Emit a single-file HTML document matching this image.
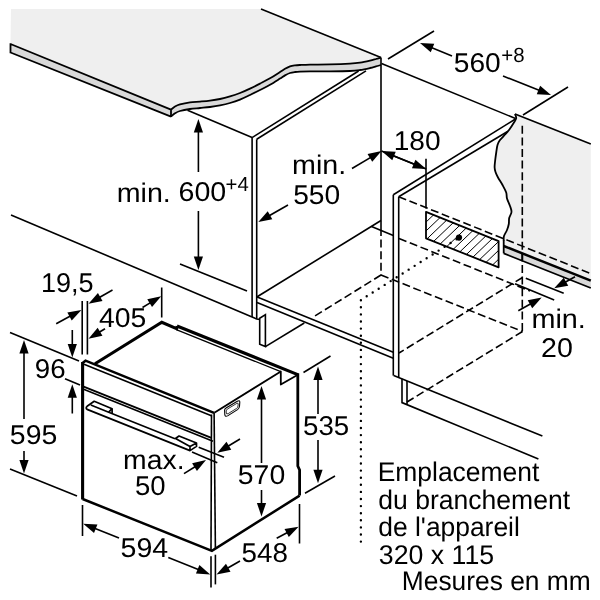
<!DOCTYPE html>
<html><head><meta charset="utf-8"><title>Installation dimensions</title>
<style>
html,body{margin:0;padding:0;background:#fff;}
svg{display:block;will-change:transform;}
text{font-family:"Liberation Sans",sans-serif;fill:#000;text-rendering:geometricPrecision;}
.t{stroke:#000;stroke-width:1.6;fill:none;stroke-linecap:butt;stroke-linejoin:miter;}
.m{stroke:#000;stroke-width:1.8;fill:none;stroke-linejoin:round;}
.k{stroke:#000;stroke-width:2.5;fill:none;stroke-linejoin:miter;}
.kk{stroke:#000;stroke-width:3.1;fill:none;stroke-linejoin:miter;}
.d{stroke:#000;stroke-width:1.6;fill:none;stroke-dasharray:8 3.6;}
.o{stroke:#000;stroke-width:2.4;fill:none;stroke-dasharray:0 7.1;stroke-linecap:round;}
.hn{stroke:#000;stroke-width:1.7;fill:none;stroke-linejoin:round;}
.ah{fill:#000;stroke:none;}
.g1{fill:#efefef;stroke:none;}
.g2{fill:#d9d9d9;stroke:none;}
</style></head><body>
<svg width="600" height="600" viewBox="0 0 600 600">
<rect width="600" height="600" fill="#fff"/>
<path class="g1" d="M11,9 L261,9 L381,57.6 L381,57.6 C380.17,57.83 377.83,58.50 376,59 C374.17,59.50 372.67,60.00 370,60.6 C367.33,61.20 363.33,62.10 360,62.6 C356.67,63.10 355.00,63.30 350,63.6 C345.00,63.90 336.67,64.23 330,64.4 C323.33,64.57 315.00,64.50 310,64.6 C305.00,64.70 302.50,64.87 300,65 C297.50,65.13 296.67,65.17 295,65.4 C293.33,65.63 291.67,65.83 290,66.4 C288.33,66.97 286.67,67.87 285,68.8 C283.33,69.73 282.50,70.42 280,72 C277.50,73.58 273.33,76.37 270,78.3 C266.67,80.23 263.33,81.88 260,83.6 C256.67,85.32 253.33,87.03 250,88.6 C246.67,90.17 243.33,91.70 240,93 C236.67,94.30 233.33,95.40 230,96.4 C226.67,97.40 223.33,98.30 220,99 C216.67,99.70 213.33,100.17 210,100.6 C206.67,101.03 203.33,101.30 200,101.6 C196.67,101.90 193.33,101.93 190,102.4 C186.67,102.87 182.50,103.72 180,104.4 C177.50,105.08 176.50,105.63 175,106.5 C173.50,107.37 171.67,109.08 171,109.6 L10.5,44 Z" />
<path class="g2" d="M10.5,44 L171,109.6 L171,116.6 L10.5,52.5 Z" />
<path class="g2" d="M171,109.6 C171.67,109.08 173.50,107.37 175,106.5 C176.50,105.63 177.50,105.08 180,104.4 C182.50,103.72 186.67,102.87 190,102.4 C193.33,101.93 196.67,101.90 200,101.6 C203.33,101.30 206.67,101.03 210,100.6 C213.33,100.17 216.67,99.70 220,99 C223.33,98.30 226.67,97.40 230,96.4 C233.33,95.40 236.67,94.30 240,93 C243.33,91.70 246.67,90.17 250,88.6 C253.33,87.03 256.67,85.32 260,83.6 C263.33,81.88 266.67,80.23 270,78.3 C273.33,76.37 277.50,73.58 280,72 C282.50,70.42 283.33,69.73 285,68.8 C286.67,67.87 288.33,66.97 290,66.4 C291.67,65.83 293.33,65.63 295,65.4 C296.67,65.17 297.50,65.13 300,65 C302.50,64.87 305.00,64.70 310,64.6 C315.00,64.50 323.33,64.57 330,64.4 C336.67,64.23 345.00,63.90 350,63.6 C355.00,63.30 356.67,63.10 360,62.6 C363.33,62.10 367.33,61.20 370,60.6 C372.67,60.00 374.17,59.50 376,59 C377.83,58.50 380.17,57.83 381,57.6 L381,65 C380.17,65.23 377.83,65.90 376,66.4 C374.17,66.90 372.67,67.40 370,68 C367.33,68.60 363.33,69.50 360,70 C356.67,70.50 355.00,70.77 350,71 C345.00,71.23 336.67,71.33 330,71.4 C323.33,71.47 315.00,71.37 310,71.4 C305.00,71.43 302.50,71.50 300,71.6 C297.50,71.70 296.67,71.77 295,72 C293.33,72.23 291.67,72.43 290,73 C288.33,73.57 286.67,74.47 285,75.4 C283.33,76.33 282.50,77.03 280,78.6 C277.50,80.17 273.33,82.90 270,84.8 C266.67,86.70 263.33,88.30 260,90 C256.67,91.70 253.33,93.40 250,95 C246.67,96.60 243.33,98.27 240,99.6 C236.67,100.93 233.33,102.03 230,103 C226.67,103.97 223.33,104.73 220,105.4 C216.67,106.07 213.33,106.57 210,107 C206.67,107.43 203.33,107.67 200,108 C196.67,108.33 193.33,108.50 190,109 C186.67,109.50 182.50,110.28 180,111 C177.50,111.72 176.50,112.37 175,113.3 C173.50,114.23 171.67,116.05 171,116.6 Z" />
<path class="m" d="M10.5,44 L171,109.6 M10.5,52.5 L171,116.6 M10.5,43.2 L10.5,53.3 M171,109 L171,117" />
<path class="m" d="M171,109.6 C171.67,109.08 173.50,107.37 175,106.5 C176.50,105.63 177.50,105.08 180,104.4 C182.50,103.72 186.67,102.87 190,102.4 C193.33,101.93 196.67,101.90 200,101.6 C203.33,101.30 206.67,101.03 210,100.6 C213.33,100.17 216.67,99.70 220,99 C223.33,98.30 226.67,97.40 230,96.4 C233.33,95.40 236.67,94.30 240,93 C243.33,91.70 246.67,90.17 250,88.6 C253.33,87.03 256.67,85.32 260,83.6 C263.33,81.88 266.67,80.23 270,78.3 C273.33,76.37 277.50,73.58 280,72 C282.50,70.42 283.33,69.73 285,68.8 C286.67,67.87 288.33,66.97 290,66.4 C291.67,65.83 293.33,65.63 295,65.4 C296.67,65.17 297.50,65.13 300,65 C302.50,64.87 305.00,64.70 310,64.6 C315.00,64.50 323.33,64.57 330,64.4 C336.67,64.23 345.00,63.90 350,63.6 C355.00,63.30 356.67,63.10 360,62.6 C363.33,62.10 367.33,61.20 370,60.6 C372.67,60.00 374.17,59.50 376,59 C377.83,58.50 380.17,57.83 381,57.6" />
<path class="m" d="M171,116.6 C171.67,116.05 173.50,114.23 175,113.3 C176.50,112.37 177.50,111.72 180,111 C182.50,110.28 186.67,109.50 190,109 C193.33,108.50 196.67,108.33 200,108 C203.33,107.67 206.67,107.43 210,107 C213.33,106.57 216.67,106.07 220,105.4 C223.33,104.73 226.67,103.97 230,103 C233.33,102.03 236.67,100.93 240,99.6 C243.33,98.27 246.67,96.60 250,95 C253.33,93.40 256.67,91.70 260,90 C263.33,88.30 266.67,86.70 270,84.8 C273.33,82.90 277.50,80.17 280,78.6 C282.50,77.03 283.33,76.33 285,75.4 C286.67,74.47 288.33,73.57 290,73 C291.67,72.43 293.33,72.23 295,72 C296.67,71.77 297.50,71.70 300,71.6 C302.50,71.50 305.00,71.43 310,71.4 C315.00,71.37 323.33,71.47 330,71.4 C336.67,71.33 345.00,71.23 350,71 C355.00,70.77 356.67,70.50 360,70 C363.33,69.50 367.33,68.60 370,68 C372.67,67.40 374.17,66.90 376,66.4 C377.83,65.90 380.17,65.23 381,65" />
<line class="t" x1="261" y1="9" x2="381" y2="57.6"/>
<line class="t" x1="187.5" y1="110.3" x2="252.1" y2="137.6"/>
<line class="t" x1="252.1" y1="137.6" x2="358.6" y2="71"/>
<line class="t" x1="256.7" y1="139.3" x2="366" y2="70.9"/>
<line class="t" x1="252.1" y1="137.6" x2="252.1" y2="317"/>
<line class="t" x1="256.7" y1="139.3" x2="256.7" y2="319"/>
<line class="t" x1="381" y1="57.5" x2="381" y2="228"/>
<line class="d" x1="381" y1="228" x2="381" y2="275"/>
<path class="t" d="M381.5,63.5 L515.5,118.5" />
<path class="g1" d="M515,114 C515.20,114.70 516.40,116.73 516.2,118.2 C516.00,119.67 514.97,120.87 513.8,122.8 C512.63,124.73 510.65,127.85 509.2,129.8 C507.75,131.75 506.67,132.75 505.1,134.5 C503.53,136.25 501.07,138.55 499.8,140.3 C498.53,142.05 498.08,143.05 497.5,145 C496.92,146.95 496.68,149.47 496.3,152 C495.92,154.53 495.48,157.67 495.2,160.2 C494.92,162.73 494.55,165.23 494.6,167.2 C494.65,169.17 494.93,170.28 495.5,172 C496.07,173.72 496.83,175.33 498,177.5 C499.17,179.67 501.13,182.50 502.5,185 C503.87,187.50 505.45,190.25 506.2,192.5 C506.95,194.75 506.37,196.25 507,198.5 C507.63,200.75 509.25,203.75 510,206 C510.75,208.25 511.63,210.00 511.5,212 C511.37,214.00 509.65,216.00 509.2,218 C508.75,220.00 509.17,222.00 508.8,224 C508.43,226.00 507.80,228.00 507,230 C506.20,232.00 504.55,234.25 504,236 C503.45,237.75 503.75,239.75 503.7,240.5 L503.7,246 L590.8,280.6 L590.8,144 L515,114 Z" />
<path class="g2" d="M503.7,246 L590.8,280.6 L590.8,288 L503.7,253.4 Z" />
<path class="m" d="M515,114 C515.20,114.70 516.40,116.73 516.2,118.2 C516.00,119.67 514.97,120.87 513.8,122.8 C512.63,124.73 510.65,127.85 509.2,129.8 C507.75,131.75 506.67,132.75 505.1,134.5 C503.53,136.25 501.07,138.55 499.8,140.3 C498.53,142.05 498.08,143.05 497.5,145 C496.92,146.95 496.68,149.47 496.3,152 C495.92,154.53 495.48,157.67 495.2,160.2 C494.92,162.73 494.55,165.23 494.6,167.2 C494.65,169.17 494.93,170.28 495.5,172 C496.07,173.72 496.83,175.33 498,177.5 C499.17,179.67 501.13,182.50 502.5,185 C503.87,187.50 505.45,190.25 506.2,192.5 C506.95,194.75 506.37,196.25 507,198.5 C507.63,200.75 509.25,203.75 510,206 C510.75,208.25 511.63,210.00 511.5,212 C511.37,214.00 509.65,216.00 509.2,218 C508.75,220.00 509.17,222.00 508.8,224 C508.43,226.00 507.80,228.00 507,230 C506.20,232.00 504.55,234.25 504,236 C503.45,237.75 503.75,239.75 503.7,240.5" />
<line class="t" x1="515" y1="114" x2="590.8" y2="144"/>
<path class="m" d="M503.7,240 L503.7,253.4" />
<path class="k" d="M503.7,246 L590.8,280.6" />
<path class="m" d="M503.7,253.4 L590.8,288 M522.3,253 L522.3,261" />
<line class="d" x1="522.3" y1="125.8" x2="522.3" y2="332.5"/>
<line class="t" x1="388" y1="59" x2="434" y2="31"/>
<line class="t" x1="523" y1="115" x2="568" y2="87"/>
<line class="t" x1="452.00" y1="56.00" x2="430.65" y2="47.33"/>
<polygon class="ah" points="420.00,43.00 434.24,43.82 430.78,52.34"/>
<line class="t" x1="503.00" y1="76.00" x2="540.31" y2="90.77"/>
<polygon class="ah" points="551.00,95.00 536.75,94.31 540.14,85.75"/>
<line class="t" x1="393.3" y1="194.7" x2="393.3" y2="375.6"/>
<line class="t" x1="398.7" y1="196.7" x2="398.7" y2="377.5"/>
<line class="t" x1="393.3" y1="194.7" x2="515.5" y2="119"/>
<line class="t" x1="398.7" y1="196.7" x2="508" y2="131.2"/>
<path class="t" d="M393.7,375.6 L542.4,436" />
<path class="t" d="M402,378.8 L402,402.6 L538.4,459" />
<line class="t" x1="407" y1="381" x2="407" y2="404.6"/>
<line class="t" x1="256.8" y1="297" x2="381" y2="220.5"/>
<line class="t" x1="371.5" y1="226.5" x2="393.3" y2="235.5"/>
<path class="t" d="M256.6,296.7 L393.3,352.2" />
<path class="t" d="M257,302.6 L393.3,358.2" />
<path class="t" d="M252.1,317 L256.6,319 L259.7,319.4 M259.7,318.3 L259.7,344.3 L265.4,346.6 L265.4,314.6 Z" />
<line class="t" x1="265.4" y1="346.6" x2="304.3" y2="323"/>
<line class="t" x1="11" y1="215" x2="252.1" y2="317"/>
<line class="t" x1="180" y1="264" x2="247" y2="291"/>
<line class="d" x1="398.7" y1="196.7" x2="590.8" y2="273.6"/>
<line class="d" x1="399" y1="238.5" x2="530" y2="291"/>
<line class="d" x1="381" y1="275" x2="313.3" y2="317"/>
<line class="d" x1="381" y1="275" x2="522.5" y2="331.5"/>
<line class="d" x1="522.5" y1="277.5" x2="399" y2="353"/>
<line class="d" x1="522.5" y1="331.5" x2="407" y2="402"/>
<clipPath id="hc"><path d="M426,211.8 L498.6,241.1 L498.6,267.3 L426,238.3 Z"/></clipPath>
<path class="t" d="M309.4,280 L393.4,200 M318.7,280 L402.7,200 M328.0,280 L412.0,200 M337.3,280 L421.3,200 M346.6,280 L430.6,200 M355.9,280 L439.9,200 M365.2,280 L449.2,200 M374.5,280 L458.5,200 M383.8,280 L467.8,200 M393.1,280 L477.1,200 M402.4,280 L486.4,200 M411.7,280 L495.7,200 M421.0,280 L505.0,200 M430.3,280 L514.3,200 M439.6,280 L523.6,200 M448.9,280 L532.9,200 M458.2,280 L542.2,200 M467.5,280 L551.5,200 M476.8,280 L560.8,200 M486.1,280 L570.1,200 M495.4,280 L579.4,200 M504.7,280 L588.7,200 M514.0,280 L598.0,200 M523.3,280 L607.3,200 M532.6,280 L616.6,200 M541.9,280 L625.9,200 M551.2,280 L635.2,200 M560.5,280 L644.5,200" clip-path="url(#hc)" style="stroke-width:1"/>
<path class="m" d="M426,211.8 L498.6,241.1 L498.6,267.3 L426,238.3 Z" />
<line class="t" x1="426" y1="158.7" x2="426" y2="208.5"/>
<circle cx="459" cy="237.6" r="3.1" fill="#000"/>
<path class="o" d="M456.6,239.2 L360.9,300 L360.9,542.5" />
<line class="t" x1="352.00" y1="168.50" x2="371.61" y2="156.87"/>
<polygon class="ah" points="381.50,151.00 372.24,161.84 367.54,153.93"/>
<line class="t" x1="426.20" y1="169.00" x2="392.17" y2="155.30"/>
<polygon class="ah" points="381.50,151.00 395.74,151.78 392.30,160.31"/>
<line class="t" x1="381.50" y1="151.00" x2="415.53" y2="164.70"/>
<polygon class="ah" points="426.20,169.00 411.96,168.22 415.40,159.69"/>
<line class="t" x1="288.00" y1="205.00" x2="268.28" y2="216.29"/>
<polygon class="ah" points="258.30,222.00 267.73,211.30 272.30,219.29"/>
<line class="t" x1="198.40" y1="172.00" x2="198.40" y2="130.50"/>
<polygon class="ah" points="198.40,119.00 203.00,132.50 193.80,132.50"/>
<line class="t" x1="198.40" y1="211.00" x2="198.40" y2="258.50"/>
<polygon class="ah" points="198.40,270.00 193.80,256.50 203.00,256.50"/>
<line class="t" x1="525.8" y1="278.3" x2="563.7" y2="293.3"/>
<line class="t" x1="515" y1="283.7" x2="554.2" y2="300"/>
<line class="t" x1="575.00" y1="276.70" x2="564.24" y2="282.70"/>
<polygon class="ah" points="554.20,288.30 563.75,277.71 568.23,285.74"/>
<line class="t" x1="518.30" y1="310.80" x2="531.70" y2="303.18"/>
<polygon class="ah" points="541.70,297.50 532.24,308.17 527.69,300.17"/>
<path class="kk" d="M82.6,499.5 L82.6,362" />
<path class="k" d="M82.3,363.2 L85.5,360.7 L214,412.9" />
<path class="t" d="M84,364.2 L211.4,415.7" />
<path class="k" d="M82.6,499 L211.9,550.8 L299.6,495.6" />
<line class="t" x1="211.5" y1="414.5" x2="211" y2="550"/>
<line class="t" x1="214.1" y1="413" x2="215.4" y2="549"/>
<path class="m" d="M83,386.3 L211.4,437.8" />
<path class="t" d="M83,389 L213,441.3" />
<path class="kk" d="M95,363.8 L161.8,322.3 L176.6,328.6 L177.3,326.2" />
<path class="kk" d="M177,326 L297.8,374.6" />
<path class="k" d="M297.8,373.3 L297.8,466 L299.6,470 L299.6,495.6" style="stroke-width:2.8"/>
<path class="t" d="M176.3,329.6 L280.8,371.7" style="stroke-width:1.3"/>
<path class="m" d="M214.3,412.8 L280.8,371.5 L280.8,384.5 L297,375.3" />
<path class="hn" d="M112.1,413.6 L112.1,408.7 L94.2,401.3 L87.1,406.3 C85.9,407.4 85.9,408.6 87.1,409.4 L190,450.6" />
<path class="hn" d="M90.8,405 L108.7,412.2 L112.1,408.7 M108.7,412.2 L175,438.7" />
<path class="hn" d="M175.5,438.5 L179,436 L196.5,443 L190,446.6 Z M196.5,443 L196.5,446.4 L190,450.6 L190,446.6" />
<path class="t" d="M224.6,410.2 Q224.6,408.8 226,408 L237.3,401.2 Q239.9,399.8 239.8,402.2 L239.5,406.3 Q239.3,408.4 237.5,409.6 L228,415.6 Q225,417.4 224.8,414.5 Z" style="stroke-width:1.1"/>
<path class="t" d="M226.2,411 Q226.2,409.8 227.2,409.2 L236.8,403.4 Q238.3,402.6 238.2,404 L238,406 Q237.9,407.5 236.6,408.4 L228.2,413.6 Q226.4,414.6 226.3,413 Z" style="stroke-width:0.8"/>
<line class="t" x1="82.2" y1="301" x2="82.2" y2="354.5"/>
<line class="t" x1="87.4" y1="301" x2="87.4" y2="354.5"/>
<line class="t" x1="161.7" y1="287.5" x2="161.7" y2="317.5"/>
<line class="t" x1="56.20" y1="323.70" x2="71.30" y2="315.49"/>
<polygon class="ah" points="81.40,310.00 71.74,320.49 67.34,312.41"/>
<line class="t" x1="112.50" y1="290.00" x2="98.49" y2="298.00"/>
<polygon class="ah" points="88.50,303.70 97.94,293.01 102.50,301.00"/>
<line class="t" x1="105.00" y1="328.70" x2="98.33" y2="332.74"/>
<polygon class="ah" points="88.50,338.70 97.66,327.77 102.43,335.64"/>
<line class="t" x1="142.50" y1="307.50" x2="151.36" y2="302.15"/>
<polygon class="ah" points="161.20,296.20 152.02,307.12 147.27,299.24"/>
<line class="t" x1="65" y1="378.7" x2="80" y2="385"/>
<line class="t" x1="72.30" y1="330.00" x2="72.30" y2="346.00"/>
<polygon class="ah" points="72.30,357.50 67.70,344.00 76.90,344.00"/>
<line class="t" x1="72.30" y1="413.50" x2="72.30" y2="395.80"/>
<polygon class="ah" points="72.30,384.30 76.90,397.80 67.70,397.80"/>
<line class="t" x1="10" y1="332.5" x2="79" y2="361"/>
<line class="t" x1="10" y1="469" x2="77" y2="496"/>
<line class="t" x1="24.00" y1="419.00" x2="24.00" y2="351.50"/>
<polygon class="ah" points="24.00,340.00 28.60,353.50 19.40,353.50"/>
<line class="t" x1="24.00" y1="451.00" x2="24.00" y2="462.00"/>
<polygon class="ah" points="24.00,473.50 19.40,460.00 28.60,460.00"/>
<line class="t" x1="82.5" y1="505" x2="82.5" y2="536"/>
<line class="t" x1="211" y1="556.3" x2="211" y2="587.5"/>
<line class="t" x1="215.4" y1="554.7" x2="215.4" y2="584.4"/>
<line class="t" x1="119.00" y1="538.00" x2="93.88" y2="527.97"/>
<polygon class="ah" points="83.20,523.70 97.44,524.44 94.03,532.98"/>
<line class="t" x1="168.30" y1="557.50" x2="199.53" y2="570.10"/>
<polygon class="ah" points="210.20,574.40 195.96,573.62 199.40,565.08"/>
<line class="t" x1="299.5" y1="504" x2="299.5" y2="543.5"/>
<line class="t" x1="240.00" y1="561.00" x2="226.49" y2="568.70"/>
<polygon class="ah" points="216.50,574.40 225.95,563.72 230.51,571.71"/>
<line class="t" x1="276.70" y1="538.30" x2="288.44" y2="532.08"/>
<polygon class="ah" points="298.60,526.70 288.82,537.08 284.52,528.95"/>
<line class="t" x1="303.5" y1="372.5" x2="330.5" y2="356"/>
<line class="t" x1="261.50" y1="463.00" x2="261.50" y2="397.50"/>
<polygon class="ah" points="261.50,386.00 266.10,399.50 256.90,399.50"/>
<line class="t" x1="261.50" y1="490.00" x2="261.50" y2="505.00"/>
<polygon class="ah" points="261.50,516.50 256.90,503.00 266.10,503.00"/>
<line class="t" x1="305" y1="493.3" x2="335" y2="476"/>
<line class="t" x1="318.00" y1="414.00" x2="318.00" y2="378.00"/>
<polygon class="ah" points="318.00,366.50 322.60,380.00 313.40,380.00"/>
<line class="t" x1="318.00" y1="440.00" x2="318.00" y2="471.80"/>
<polygon class="ah" points="318.00,483.30 313.40,469.80 322.60,469.80"/>
<line class="t" x1="198.7" y1="447.3" x2="224" y2="457.3"/>
<line class="t" x1="192" y1="452" x2="217.3" y2="462.7"/>
<line class="t" x1="240.00" y1="439.00" x2="227.15" y2="446.76"/>
<polygon class="ah" points="217.30,452.70 226.48,441.79 231.24,449.66"/>
<line class="t" x1="184.00" y1="473.60" x2="196.22" y2="466.05"/>
<polygon class="ah" points="206.00,460.00 196.94,471.01 192.10,463.19"/>
<text transform="translate(453.86,71.6) scale(1.0372,1)" font-size="27.1">560</text>
<text transform="translate(501.30,61.6) scale(0.9953,1)" font-size="20.5">+8</text>
<text transform="translate(116.80,201.6) scale(1.0553,1)" font-size="27.1">min.</text>
<text transform="translate(178.52,201.4) scale(1.0539,1)" font-size="27.1">600</text>
<text transform="translate(225.61,191.2) scale(0.9908,1)" font-size="20.5">+4</text>
<text transform="translate(292.10,174.3) scale(1.0574,1)" font-size="27.1">min.</text>
<text transform="translate(293.16,204.4) scale(1.0395,1)" font-size="27.1">550</text>
<text transform="translate(393.72,150.4) scale(1.0357,1)" font-size="27.1">180</text>
<text transform="translate(40.90,292) scale(0.9980,1)" font-size="27.1">19,5</text>
<text transform="translate(98.97,327.4) scale(1.0461,1)" font-size="27.1">405</text>
<text transform="translate(34.87,378) scale(1.0217,1)" font-size="27.1">96</text>
<text transform="translate(9.85,444.0) scale(1.0490,1)" font-size="27.1">595</text>
<text transform="translate(303.08,434.6) scale(1.0210,1)" font-size="27.1">535</text>
<text transform="translate(237.85,484.4) scale(1.0465,1)" font-size="27.1">570</text>
<text transform="translate(123.12,469) scale(1.0459,1)" font-size="27.1">max.</text>
<text transform="translate(134.88,495) scale(1.0143,1)" font-size="27.1">50</text>
<text transform="translate(120.54,557.3) scale(1.0531,1)" font-size="27.1">594</text>
<text transform="translate(241.57,561.7) scale(1.0256,1)" font-size="27.1">548</text>
<text transform="translate(531.39,327.5) scale(1.0638,1)" font-size="27.1">min.</text>
<text transform="translate(541.02,356.7) scale(1.0542,1)" font-size="27.1">20</text>
<text transform="translate(377.64,480.5) scale(0.9797,1)" font-size="27">Emplacement</text>
<text transform="translate(378.32,508.5) scale(0.9825,1)" font-size="27">du branchement</text>
<text transform="translate(378.32,536.3) scale(0.9774,1)" font-size="27">de l'appareil</text>
<text transform="translate(378.81,563.6) scale(0.9895,1)" font-size="27">320 x 115</text>
<text transform="translate(401.85,590.3) scale(0.9757,1)" font-size="27">Mesures en mm</text>
</svg>
</body></html>
